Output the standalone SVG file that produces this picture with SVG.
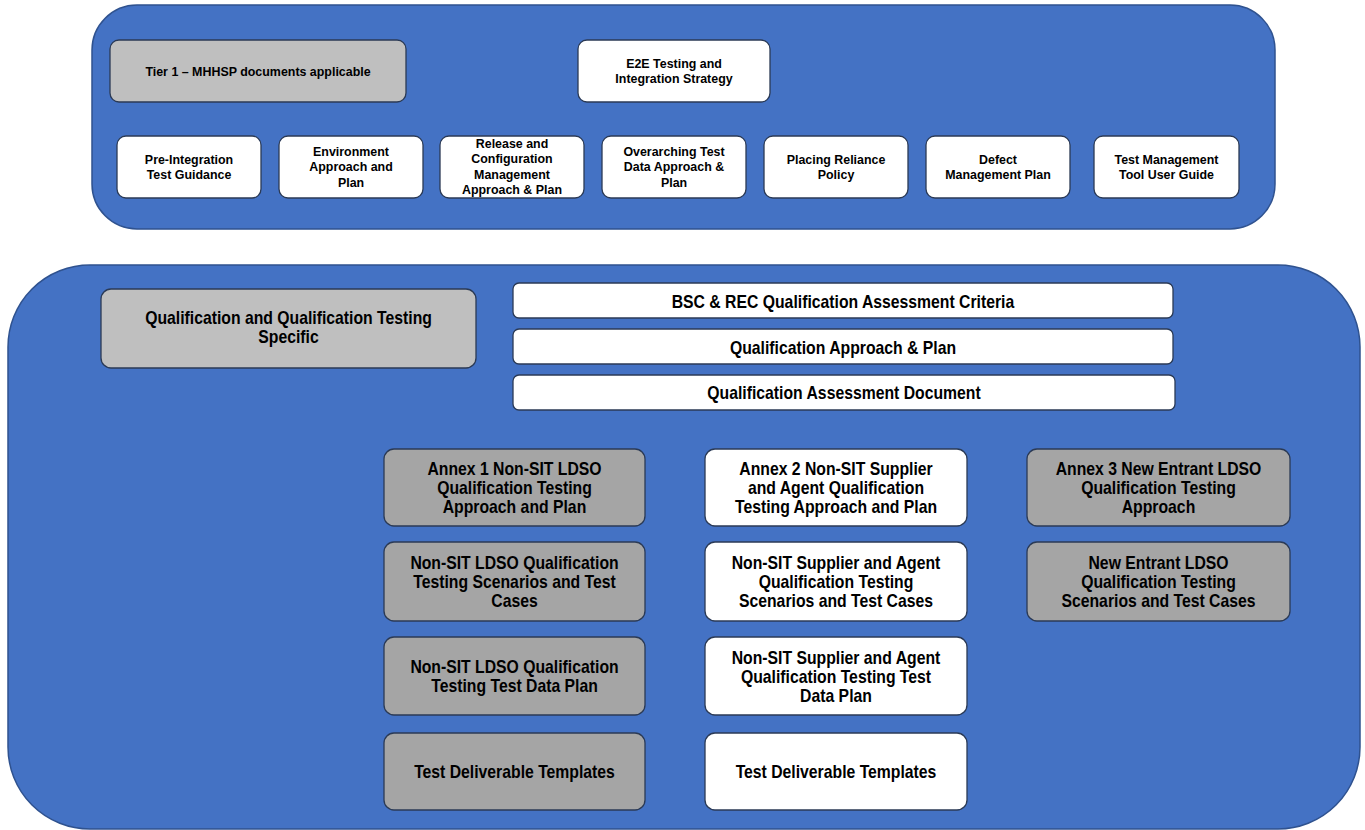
<svg xmlns="http://www.w3.org/2000/svg" width="1365" height="830" viewBox="0 0 1365 830">
<style>
.panel{fill:#4472C4;stroke:#2F528F;stroke-width:1.5}
.box{stroke:#2B3A55;stroke-width:1.3}
.w{fill:#FFFFFF}
.g1{fill:#BFBFBF}
.g2{fill:#A5A5A5}
.t{font-family:"Liberation Sans",Arial,sans-serif;font-weight:bold;fill:#000;text-anchor:middle}
.s{font-size:13.5px}
.l{font-size:19px}
</style>
<rect width="1365" height="830" fill="#FFFFFF"/>
<g id="tier1-panel">
<rect class="panel" x="92" y="5" width="1183" height="224" rx="45"/>
</g>
<g id="tier1-label">
<rect class="box g1" x="110" y="40" width="296" height="62" rx="9"/>
<text class="t s" transform="translate(258,75.5) scale(0.92,1)"><tspan x="0">Tier 1 – MHHSP documents applicable</tspan></text>
</g>
<g id="e2e">
<rect class="box w" x="578" y="40" width="192" height="62" rx="9"/>
<text class="t s" transform="translate(674,67.5) scale(0.92,1)"><tspan x="0">E2E Testing and</tspan><tspan x="0" dy="15.5">Integration Strategy</tspan></text>
</g>
<g id="pre-integration">
<rect class="box w" x="117" y="136" width="144" height="62" rx="9"/>
<text class="t s" transform="translate(189,163.5) scale(0.92,1)"><tspan x="0">Pre-Integration</tspan><tspan x="0" dy="15.5">Test Guidance</tspan></text>
</g>
<g id="environment">
<rect class="box w" x="279" y="136" width="144" height="62" rx="9"/>
<text class="t s" transform="translate(351,156) scale(0.92,1)"><tspan x="0">Environment</tspan><tspan x="0" dy="15.5">Approach and</tspan><tspan x="0" dy="15.5">Plan</tspan></text>
</g>
<g id="release">
<rect class="box w" x="440" y="136" width="144" height="62" rx="9"/>
<text class="t s" transform="translate(512,148) scale(0.92,1)"><tspan x="0">Release and</tspan><tspan x="0" dy="15.5">Configuration</tspan><tspan x="0" dy="15.5">Management</tspan><tspan x="0" dy="15.5">Approach &amp; Plan</tspan></text>
</g>
<g id="test-data">
<rect class="box w" x="602" y="136" width="144" height="62" rx="9"/>
<text class="t s" transform="translate(674,156) scale(0.92,1)"><tspan x="0">Overarching Test</tspan><tspan x="0" dy="15.5">Data Approach &amp;</tspan><tspan x="0" dy="15.5">Plan</tspan></text>
</g>
<g id="placing-reliance">
<rect class="box w" x="764" y="136" width="144" height="62" rx="9"/>
<text class="t s" transform="translate(836,163.5) scale(0.92,1)"><tspan x="0">Placing Reliance</tspan><tspan x="0" dy="15.5">Policy</tspan></text>
</g>
<g id="defect">
<rect class="box w" x="926" y="136" width="144" height="62" rx="9"/>
<text class="t s" transform="translate(998,163.5) scale(0.92,1)"><tspan x="0">Defect</tspan><tspan x="0" dy="15.5">Management Plan</tspan></text>
</g>
<g id="tool-guide">
<rect class="box w" x="1094" y="136" width="145" height="62" rx="9"/>
<text class="t s" transform="translate(1166.5,163.5) scale(0.92,1)"><tspan x="0">Test Management</tspan><tspan x="0" dy="15.5">Tool User Guide</tspan></text>
</g>

<g id="qual-panel">
<rect class="panel" x="8" y="265" width="1352" height="564" rx="82"/>
</g>
<g id="qual-specific">
<rect class="box g1" x="101" y="289" width="375" height="79" rx="10"/>
<text class="t l" transform="translate(288.5,323.5) scale(0.83,1)"><tspan x="0">Qualification and Qualification Testing</tspan><tspan x="0" dy="19.5">Specific</tspan></text>
</g>
<g id="bsc-rec">
<rect class="box w" x="513" y="283" width="660" height="35" rx="6"/>
<text class="t l" transform="translate(843,307.5) scale(0.83,1)"><tspan x="0">BSC &amp; REC Qualification Assessment Criteria</tspan></text>
</g>
<g id="qual-approach">
<rect class="box w" x="513" y="329" width="660" height="35" rx="6"/>
<text class="t l" transform="translate(843,353.5) scale(0.83,1)"><tspan x="0">Qualification Approach &amp; Plan</tspan></text>
</g>
<g id="qual-assessment">
<rect class="box w" x="513" y="375" width="662" height="35" rx="6"/>
<text class="t l" transform="translate(844,399) scale(0.83,1)"><tspan x="0">Qualification Assessment Document</tspan></text>
</g>

<g id="annex1">
<rect class="box g2" x="384" y="449" width="261" height="77" rx="10"/>
<text class="t l" transform="translate(514.5,474.5) scale(0.83,1)"><tspan x="0">Annex 1 Non-SIT LDSO</tspan><tspan x="0" dy="19.5">Qualification Testing</tspan><tspan x="0" dy="19.5">Approach and Plan</tspan></text>
</g>
<g id="annex2">
<rect class="box w" x="705" y="449" width="262" height="77" rx="10"/>
<text class="t l" transform="translate(836,474.5) scale(0.83,1)"><tspan x="0">Annex 2 Non-SIT Supplier</tspan><tspan x="0" dy="19.5">and Agent Qualification</tspan><tspan x="0" dy="19.5">Testing Approach and Plan</tspan></text>
</g>
<g id="annex3">
<rect class="box g2" x="1027" y="449" width="263" height="77" rx="10"/>
<text class="t l" transform="translate(1158.5,474.5) scale(0.83,1)"><tspan x="0">Annex 3 New Entrant LDSO</tspan><tspan x="0" dy="19.5">Qualification Testing</tspan><tspan x="0" dy="19.5">Approach</tspan></text>
</g>

<g id="ldso-scenarios">
<rect class="box g2" x="384" y="542" width="261" height="79" rx="10"/>
<text class="t l" transform="translate(514.5,568.5) scale(0.83,1)"><tspan x="0">Non-SIT LDSO Qualification</tspan><tspan x="0" dy="19.5">Testing Scenarios and Test</tspan><tspan x="0" dy="19.5">Cases</tspan></text>
</g>
<g id="supplier-scenarios">
<rect class="box w" x="705" y="542" width="262" height="79" rx="10"/>
<text class="t l" transform="translate(836,568.5) scale(0.83,1)"><tspan x="0">Non-SIT Supplier and Agent</tspan><tspan x="0" dy="19.5">Qualification Testing</tspan><tspan x="0" dy="19.5">Scenarios and Test Cases</tspan></text>
</g>
<g id="new-entrant-scenarios">
<rect class="box g2" x="1027" y="542" width="263" height="79" rx="10"/>
<text class="t l" transform="translate(1158.5,568.5) scale(0.83,1)"><tspan x="0">New Entrant LDSO</tspan><tspan x="0" dy="19.5">Qualification Testing</tspan><tspan x="0" dy="19.5">Scenarios and Test Cases</tspan></text>
</g>

<g id="ldso-test-data">
<rect class="box g2" x="384" y="637" width="261" height="78" rx="10"/>
<text class="t l" transform="translate(514.5,673) scale(0.83,1)"><tspan x="0">Non-SIT LDSO Qualification</tspan><tspan x="0" dy="19.5">Testing Test Data Plan</tspan></text>
</g>
<g id="supplier-test-data">
<rect class="box w" x="705" y="637" width="262" height="78" rx="10"/>
<text class="t l" transform="translate(836,663.5) scale(0.83,1)"><tspan x="0">Non-SIT Supplier and Agent</tspan><tspan x="0" dy="19.5">Qualification Testing Test</tspan><tspan x="0" dy="19.5">Data Plan</tspan></text>
</g>

<g id="ldso-templates">
<rect class="box g2" x="384" y="733" width="261" height="77" rx="10"/>
<text class="t l" transform="translate(514.5,778) scale(0.83,1)"><tspan x="0">Test Deliverable Templates</tspan></text>
</g>
<g id="supplier-templates">
<rect class="box w" x="705" y="733" width="262" height="77" rx="10"/>
<text class="t l" transform="translate(836,778) scale(0.83,1)"><tspan x="0">Test Deliverable Templates</tspan></text>
</g>
</svg>
